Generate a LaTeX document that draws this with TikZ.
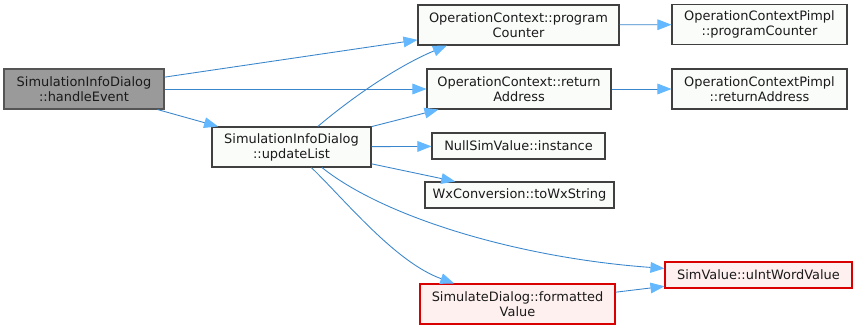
\documentclass[tikz,border=0pt]{standalone}
\usepackage{fontspec}
\setmainfont{DejaVu Sans}
\usetikzlibrary{arrows.meta}

\definecolor{edgeblue}{HTML}{3A86CC}
\definecolor{tipblue}{HTML}{63B8FF}
\definecolor{boxline}{HTML}{404040}
\definecolor{boxfill}{HTML}{FAFCFA}
\definecolor{rootline}{HTML}{555555}
\definecolor{rootfill}{HTML}{9A9A9A}
\definecolor{redline}{HTML}{D80000}
\definecolor{redfill}{HTML}{FFF0F0}
\definecolor{txt}{HTML}{1A1A1A}

\begin{document}
\begin{tikzpicture}[x=0.75pt,y=-0.75pt,
  fn/.style={draw=boxline, fill=boxfill, line width=0.8pt, inner sep=0pt,
             align=center, text=txt, font=\fontsize{9.7pt}{11.2pt}\selectfont},
  root/.style={fn, draw=rootline, fill=rootfill},
  ext/.style={fn, draw=redline, fill=redfill},
  sz/.style 2 args={minimum width=#1*0.75pt, minimum height=#2*0.75pt},
  call/.style={draw=edgeblue, line width=0.65pt,
               -{Triangle[length=10.5pt,width=8pt,fill=tipblue,color=tipblue]}}]

% canvas
\fill[white] (0,0) rectangle (857,329);
\useasboundingbox (0,0) rectangle (857,329);

% functions
\node[root, sz={160}{40}] (he)  at (84,89)      {SimulationInfoDialog\\::handleEvent};
\node[fn,   sz={159}{40}] (ul)  at (291.5,147)  {SimulationInfoDialog\\::updateList};
\node[fn,   sz={201}{40}] (pc)  at (518.5,25)   {OperationContext::program\\Counter};
\node[fn,   sz={184}{40}] (ra)  at (519,89)     {OperationContext::return\\Address};
\node[fn,   sz={173}{26}] (ns)  at (518.5,146)  {NullSimValue::instance};
\node[fn,   sz={189}{26}] (wx)  at (519.5,195)  {WxConversion::toWxString};
\node[fn,   sz={175}{40}] (ppc) at (759.5,24.5) {OperationContextPimpl\\::programCounter};
\node[fn,   sz={175}{40}] (pra) at (759.5,89)   {OperationContextPimpl\\::returnAddress};
\node[ext,  sz={187}{26}] (uv)  at (758.5,275)  {SimValue::uIntWordValue};
\node[ext,  sz={195}{40}] (fv)  at (517.5,304)  {SimulateDialog::formatted\\Value};

% calls
\draw[call] (he) -- (pc);
\draw[call] (he) -- (ra);
\draw[call] (he) -- (ul);
\draw[call] (ul.38) .. controls (355,95) and (400,65) .. (pc.196);
\draw[call] (ul) -- (ra);
\draw[call] (ul) -- (ns);
\draw[call] (ul) -- (wx);
\draw[call] (ul.-34) .. controls (385,218) and (520,258) .. (uv.176);
\draw[call] (ul.-46) .. controls (345,200) and (395,262) .. (fv.162);
\draw[call] (fv) -- (uv);
\draw[call] (pc) -- (ppc);
\draw[call] (ra) -- (pra);
\end{tikzpicture}
\end{document}
